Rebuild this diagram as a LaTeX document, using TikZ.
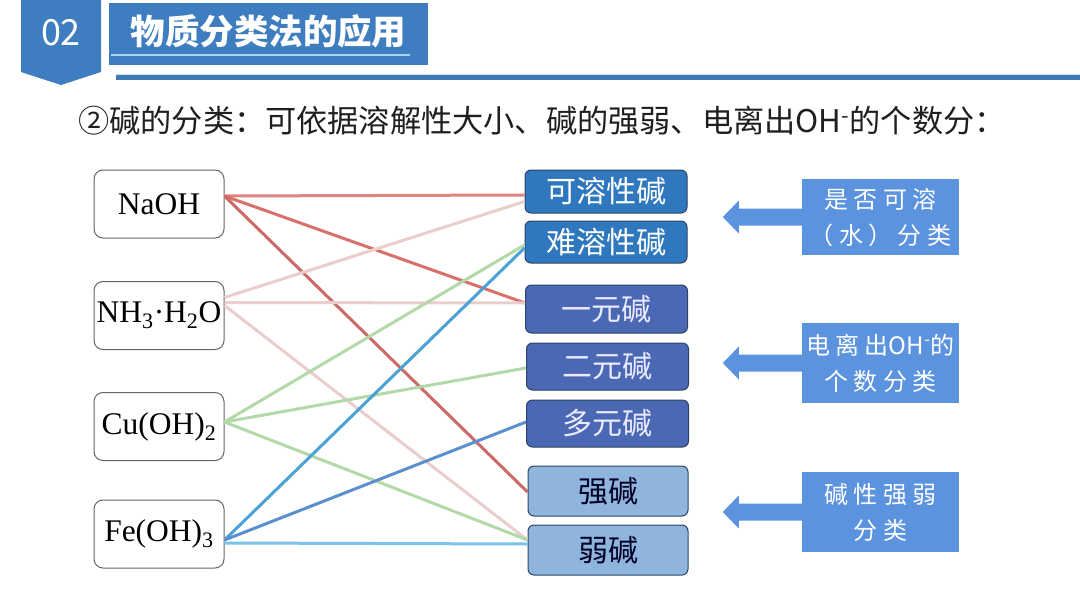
\documentclass[tikz,border=0pt]{standalone}
\usepackage{fontspec}
\setmainfont{Liberation Serif}
\newfontfamily\cjk{Noto Sans CJK SC}
\newfontfamily\cjksp{Noto Sans CJK SC}[LetterSpace=22]
\usetikzlibrary{calc}
\definecolor{hdr}{HTML}{3E7DC0}
\definecolor{hdrline}{HTML}{3F78B2}
\definecolor{thinline}{HTML}{A8D2F2}
\definecolor{topc}{HTML}{2F78BE}
\definecolor{midc}{HTML}{4B68B5}
\definecolor{lowc}{HTML}{8FB5DD}
\definecolor{bordc}{HTML}{2E4466}
\definecolor{rightc}{HTML}{5B93DE}
\definecolor{redl}{HTML}{D8706C}
\definecolor{pinkl}{HTML}{EACDCD}
\definecolor{greenl}{HTML}{B4D9A8}
\definecolor{bluel}{HTML}{4AA3D4}
\definecolor{bluem}{HTML}{5C90CC}
\definecolor{bluelt}{HTML}{7BC3EA}
\tikzset{
  chem/.style={draw=black!60, line width=1pt, rounded corners=9pt, fill=white,
    minimum width=130pt, minimum height=68pt, inner sep=0pt,
    font=\fontsize{31.5}{31.5}\selectfont},
  catbox/.style={draw=bordc, line width=1pt, rounded corners=6pt, inner sep=0pt,
    minimum width=162pt, font=\cjk\fontsize{30}{30}\selectfont},
  topbox/.style={catbox, fill=topc, text=white},
  midbox/.style={catbox, fill=midc, text=white!92!blue},
  lowbox/.style={catbox, fill=lowc, text=black!85!blue},
  sidebox/.style={fill=rightc, text=white, inner sep=0pt, minimum width=157pt,
    align=center, font=\cjksp\fontsize{24}{36}\selectfont},
  link/.style={line width=3pt},
}
\begin{document}
\begin{tikzpicture}[x=1pt,y=-1pt]
\useasboundingbox (0,0) rectangle (1080,608);
\fill[white] (0,0) rectangle (1080,608);
% header
\fill[hdr] (21,0) -- (101,0) -- (101,72) -- (61,85) -- (21,72) -- cycle;
\node[text=white, font=\cjk\fontsize{36}{36}\selectfont, inner sep=0pt] (num) at (61,33) {02};
\node[fill=hdr, minimum width=319pt, minimum height=62pt, inner sep=0pt] (title) at (268.5,34) {};
\node[text=white, font=\cjk\bfseries\fontsize{34.5}{34.5}\selectfont, inner sep=0pt] (titletext) at (268.5,31) {物质分类法的应用};
\draw[thinline, line width=1.2pt] (111,55) -- (410,55);
\fill[hdrline] (116,75) rectangle (1080,80);
\draw[thinline!60, line width=0.6pt] (116,74.5) -- (1080,74.5);
% subtitle
\node[anchor=west, inner sep=0pt, text=black!88, font=\cjk\fontsize{31.2}{31.2}\selectfont] (sub) at (78,121)
  {②碱的分类：可依据溶解性大小、碱的强弱、电离出OH\textsuperscript{-}的个数分：};
% left boxes
\node[chem] (naoh) at (159,204) {NaOH};
\node[chem] (nh3) at (159,315.5) {NH\textsubscript{3}·H\textsubscript{2}O};
\node[chem] (cu) at (159,426.5) {Cu(OH)\textsubscript{2}};
\node[chem] (fe) at (159,534) {Fe(OH)\textsubscript{3}};
% middle boxes
\node[topbox, minimum height=43pt] (ks) at (606,191.5) {可溶性碱};
\node[topbox, minimum height=42pt] (ns) at (606,242) {难溶性碱};
\node[midbox, minimum height=48pt] (one) at (606.5,309) {一元碱};
\node[midbox, minimum height=47pt] (two) at (607.5,366.5) {二元碱};
\node[midbox, minimum height=47pt] (multi) at (607.5,423.5) {多元碱};
\node[lowbox, minimum height=50pt, minimum width=160pt] (strong) at (608,491) {强碱};
\node[lowbox, minimum height=50pt, minimum width=160pt] (weak) at (608,550) {弱碱};
% right side boxes with arrows
\node[sidebox, minimum height=76pt] (r1) at (880.5,217) {是否可溶\\（水）分类};
\node[sidebox, minimum height=80pt] (r2) at (880.5,363) {电离出{\cjk\fontsize{24}{36}\selectfont OH\textsuperscript{-}}的\\个数分类};
\node[sidebox, minimum height=80pt] (r3) at (880.5,512) {碱性强弱\\分类};
\foreach \r in {r1,r2,r3}{
  \fill[rightc] ($(\r.west)+(0.5,-8.5)$) -- ++(-63.5,0) -- ++(0,-8) -- ++(-16,16.5)
    -- ++(16,16.5) -- ++(0,-8) -- ++(63.5,0) -- cycle;
}
% connectors
\draw[link, redl!85!white] ($(naoh.east)+(0,-8)$) -- ($(ks.west)+(0,3.5)$);
\draw[link, redl] ($(naoh.east)+(0,-8)$) -- ($(one.west)+(0,-6)$);
\draw[link, redl!95!black] ($(naoh.east)+(0,-8)$) -- ($(strong.west)+(0,1)$);
\draw[link, pinkl] ($(nh3.east)+(0,-18)$) -- ($(ks.west)+(0,10)$);
\draw[link, pinkl] ($(nh3.east)+(0,-13)$) -- ($(one.west)+(0,-6)$);
\draw[link, pinkl] ($(nh3.east)+(0,-10)$) -- ($(weak.west)+(0,-10)$);
\draw[link, greenl] ($(cu.east)+(0,-4.5)$) -- ($(ns.west)+(0,3)$);
\draw[link, greenl] ($(cu.east)+(0,-4.5)$) -- ($(two.west)+(0,1.5)$);
\draw[link, greenl] ($(cu.east)+(0,-4.5)$) -- ($(weak.west)+(0,-10)$);
\draw[link, bluel] ($(fe.east)+(0,6)$) -- ($(ns.west)+(0,6)$);
\draw[link, bluem] ($(fe.east)+(0,6)$) -- ($(multi.west)+(0,-1.5)$);
\draw[link, bluelt] ($(fe.east)+(0,9)$) -- ($(weak.west)+(0,-6)$);
\end{tikzpicture}
\end{document}
